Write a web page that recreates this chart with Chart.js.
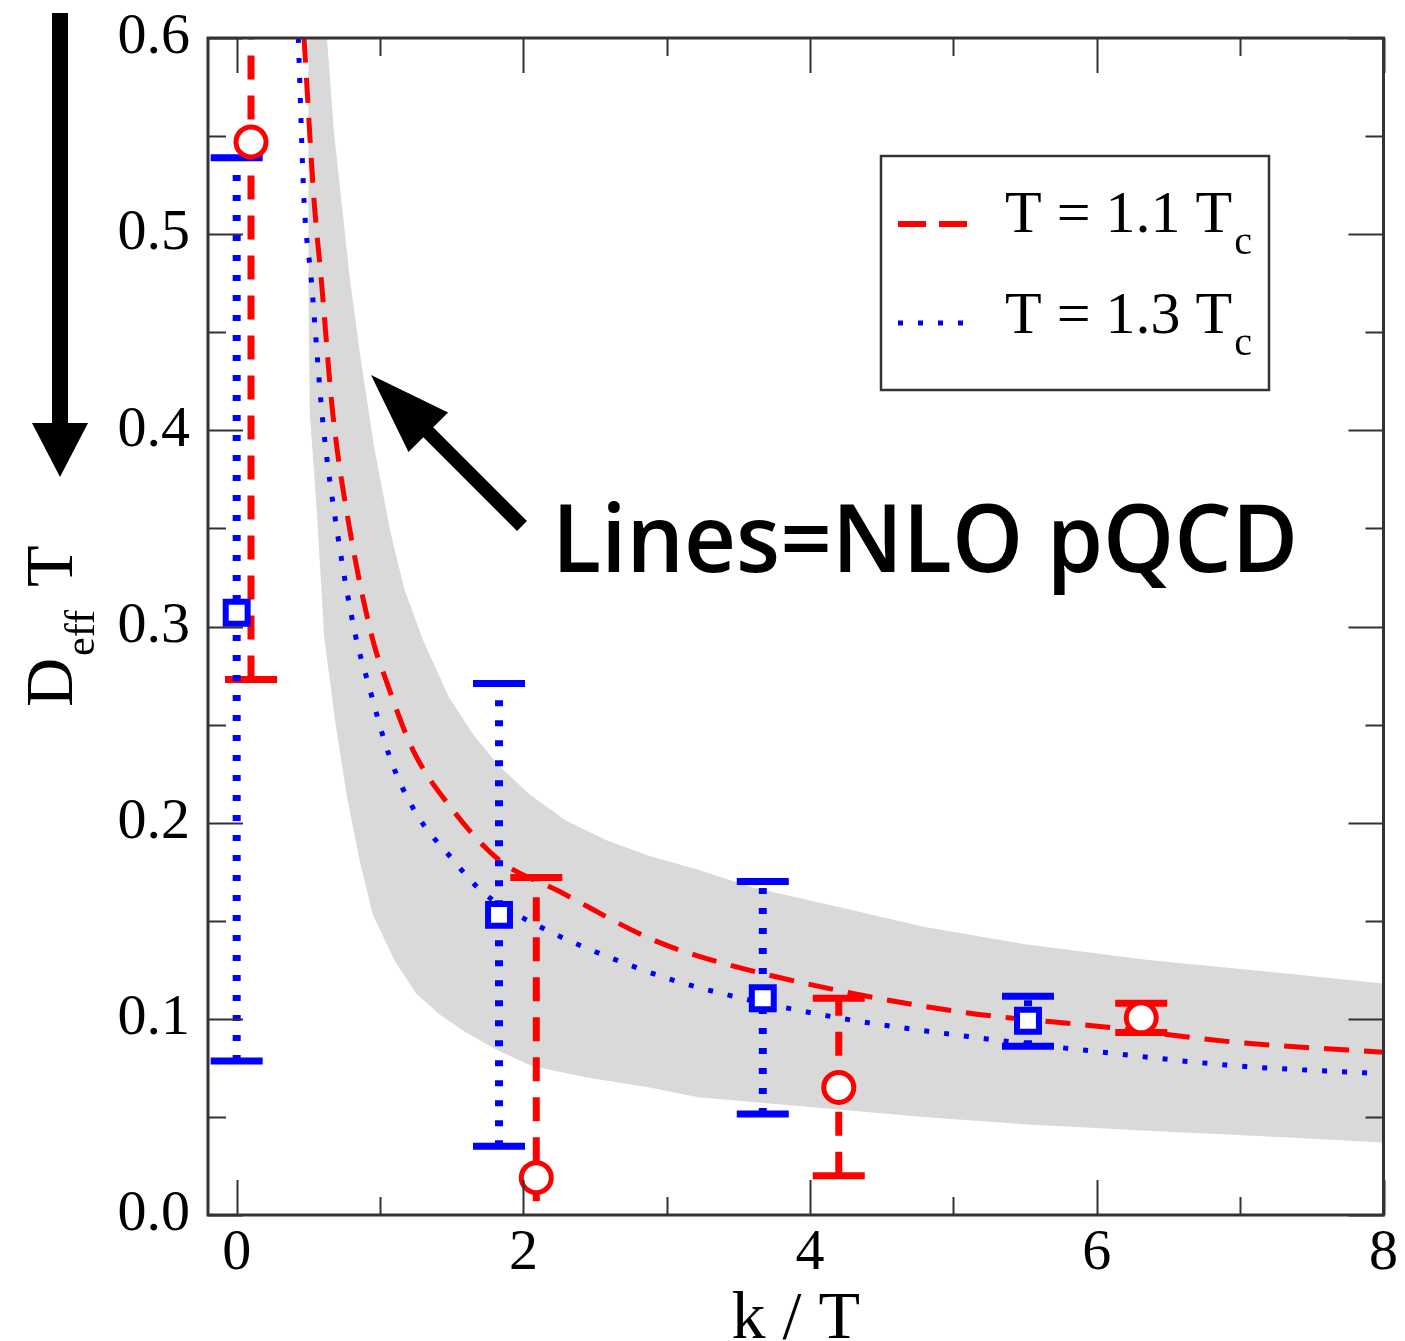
<!DOCTYPE html>
<html>
<head>
<meta charset="utf-8">
<title>D_eff T vs k/T</title>
<script src="https://cdn.jsdelivr.net/npm/chart.js@4.4.1/dist/chart.umd.min.js"></script>
<style>
    html, body { margin: 0; padding: 0; background: #fff; }
    canvas { display: block; }
</style>
</head>
<body>
<canvas id="chart" width="1405" height="1341"></canvas>
<script>
// NLO pQCD curves
const redCurveK = [0.47, 0.54, 0.59, 0.67, 0.79, 0.95, 1.04, 1.23, 1.48, 1.83, 2.25, 2.88, 3.22, 4.16, 5.10, 6.04, 6.98, 8.0];
const redCurveD = [0.600, 0.517, 0.477, 0.409, 0.349, 0.293, 0.273, 0.237, 0.209, 0.181, 0.165, 0.141, 0.132, 0.115, 0.103, 0.096, 0.088, 0.083];
const blueCurveK = [0.43, 0.47, 0.52, 0.60, 0.70, 0.83, 0.91, 1.07, 1.25, 1.51, 1.71, 2.06, 2.83, 3.22, 4.16, 5.10, 6.04, 6.98, 8.0];
const blueCurveD = [0.600, 0.517, 0.477, 0.405, 0.349, 0.295, 0.273, 0.233, 0.205, 0.181, 0.165, 0.149, 0.125, 0.116, 0.101, 0.091, 0.083, 0.076, 0.072];

// grey band (upper and lower edges)
const bandUpperK = [0.63, 0.68, 0.79, 0.87, 0.96, 1.07, 1.17, 1.30, 1.48, 1.65, 1.83, 2.05, 2.30, 2.58, 2.88, 3.22, 3.60, 4.20, 4.79, 5.50, 6.36, 7.20, 8.0];
const bandUpperD = [0.600, 0.551, 0.477, 0.434, 0.391, 0.349, 0.319, 0.293, 0.264, 0.245, 0.229, 0.214, 0.201, 0.191, 0.183, 0.176, 0.167, 0.157, 0.147, 0.138, 0.130, 0.124, 0.118];
const bandLowerK = [0.50, 0.50, 0.51, 0.56, 0.61, 0.69, 0.77, 0.86, 0.95, 1.10, 1.25, 1.42, 1.60, 1.82, 2.06, 2.45, 2.88, 3.22, 4.00, 4.79, 5.55, 6.36, 7.20, 8.0];
const bandLowerD = [0.600, 0.477, 0.409, 0.358, 0.295, 0.250, 0.213, 0.180, 0.153, 0.130, 0.113, 0.102, 0.093, 0.084, 0.076, 0.070, 0.065, 0.060, 0.055, 0.050, 0.046, 0.043, 0.040, 0.037];

// lattice points, T = 1.1 Tc
const redK = [0.10, 2.09, 4.20, 6.31];
const redD = [0.547, 0.019, 0.065, 0.1005];
const redLo = [0.273, 0.007, 0.020, 0.093];
const redHi = [0.70, 0.172, 0.1105, 0.108];
const redLoCap = [true, false, true, true];

// lattice points, T = 1.3 Tc
const blueK = [0.00, 1.83, 3.67, 5.52];
const blueD = [0.307, 0.153, 0.1105, 0.099];
const blueLo = [0.0785, 0.035, 0.0515, 0.086];
const blueHi = [0.539, 0.271, 0.170, 0.1115];

const xTicks = [0, 2, 4, 6, 8];
const xMinor = [1, 3, 5, 7];
const yTicks = [0, 0.1, 0.2, 0.3, 0.4, 0.5, 0.6];
const yMinor = [0.05, 0.15, 0.25, 0.35, 0.45, 0.55];
const legendLabels = ['T = 1.1 T', 'T = 1.3 T'];

const RED = '#ff0000';
const BLUE = '#0000ff';
const SERIF = '"Liberation Serif", "Times New Roman", serif';

function zip(ks, ds) {
    return ks.map((k, i) => ({ x: k, y: ds[i] }));
}

// closed outline of the band: along the top edge, back along the bottom edge
const bandShape = zip(bandUpperK, bandUpperD).concat(zip(bandLowerK, bandLowerD).reverse());

function drawErrorBars(chart, ks, lo, hi, color, width, dash, loCap) {
    const ctx = chart.ctx;
    const xs = chart.scales.x;
    const ys = chart.scales.y;
    const top = chart.chartArea.top;
    ks.forEach((k, i) => {
        const px = xs.getPixelForValue(k);
        const pLo = ys.getPixelForValue(lo[i]);
        const pHi = ys.getPixelForValue(hi[i]);
        ctx.save();
        ctx.strokeStyle = color;
        ctx.lineWidth = width;
        ctx.lineCap = 'butt';
        ctx.setLineDash(dash);
        ctx.beginPath();
        ctx.moveTo(px, pLo);
        ctx.lineTo(px, pHi);
        ctx.stroke();
        ctx.setLineDash([]);
        ctx.lineWidth = 7;
        ctx.beginPath();
        if (!loCap || loCap[i]) {
            ctx.moveTo(px - 26, pLo);
            ctx.lineTo(px + 26, pLo);
        }
        if (pHi >= top) {
            ctx.moveTo(px - 26, pHi);
            ctx.lineTo(px + 26, pHi);
        }
        ctx.stroke();
        ctx.restore();
    });
}

function drawArrow(ctx, x1, y1, x2, y2, shaftW, headLen, headHalf) {
    const len = Math.hypot(x2 - x1, y2 - y1);
    const ux = (x2 - x1) / len;
    const uy = (y2 - y1) / len;
    const bx = x2 - ux * headLen;
    const by = y2 - uy * headLen;
    const nx = -uy;
    const ny = ux;
    ctx.beginPath();
    ctx.moveTo(x1 + nx * shaftW / 2, y1 + ny * shaftW / 2);
    ctx.lineTo(bx + nx * shaftW / 2, by + ny * shaftW / 2);
    ctx.lineTo(bx + nx * headHalf, by + ny * headHalf);
    ctx.lineTo(x2, y2);
    ctx.lineTo(bx - nx * headHalf, by - ny * headHalf);
    ctx.lineTo(bx - nx * shaftW / 2, by - ny * shaftW / 2);
    ctx.lineTo(x1 - nx * shaftW / 2, y1 - ny * shaftW / 2);
    ctx.closePath();
    ctx.fill();
}

const decorations = {
    id: 'decorations',
    beforeDatasetDraw(chart, args) {
        // error bars go under the markers but over the curves
        if (args.index !== 3) return;
        const ctx = chart.ctx;
        const a = chart.chartArea;
        ctx.save();
        ctx.beginPath();
        ctx.rect(a.left, a.top, a.right - a.left, a.bottom - a.top);
        ctx.clip();
        drawErrorBars(chart, redK, redLo, redHi, RED, 7, [24, 16], redLoCap);
        drawErrorBars(chart, blueK, blueLo, blueHi, BLUE, 8, [6, 14], null);
        ctx.restore();
    },
    afterDraw(chart) {
        const ctx = chart.ctx;
        const a = chart.chartArea;
        const xs = chart.scales.x;
        const ys = chart.scales.y;

        // inward ticks on all four sides
        ctx.save();
        ctx.strokeStyle = '#333';
        ctx.lineWidth = 2;
        ctx.beginPath();
        const xMarks = xTicks.map(v => [v, 35]).concat(xMinor.map(v => [v, 18]));
        xMarks.forEach(([v, len]) => {
            const p = Math.round(xs.getPixelForValue(v)) + 0.5;
            ctx.moveTo(p, a.bottom); ctx.lineTo(p, a.bottom - len);
            ctx.moveTo(p, a.top); ctx.lineTo(p, a.top + len);
        });
        const yMarks = yTicks.map(v => [v, 35]).concat(yMinor.map(v => [v, 18]));
        yMarks.forEach(([v, len]) => {
            const p = Math.round(ys.getPixelForValue(v)) + 0.5;
            ctx.moveTo(a.left, p); ctx.lineTo(a.left + len, p);
            ctx.moveTo(a.right, p); ctx.lineTo(a.right - len, p);
        });
        ctx.stroke();

        // frame
        ctx.lineWidth = 3;
        ctx.strokeStyle = '#333';
        ctx.strokeRect(a.left, a.top, a.right - a.left, a.bottom - a.top);
        ctx.restore();

        // legend box
        ctx.save();
        ctx.fillStyle = '#fff';
        ctx.fillRect(881, 156, 388, 234);
        ctx.strokeStyle = '#333';
        ctx.lineWidth = 2.5;
        ctx.strokeRect(881, 156, 388, 234);
        ctx.lineCap = 'butt';
        ctx.strokeStyle = RED;
        ctx.lineWidth = 6;
        ctx.setLineDash([28, 13]);
        ctx.beginPath();
        ctx.moveTo(898, 224); ctx.lineTo(967, 224);
        ctx.stroke();
        ctx.strokeStyle = BLUE;
        ctx.lineWidth = 5;
        ctx.setLineDash([5, 15]);
        ctx.beginPath();
        ctx.moveTo(898, 323); ctx.lineTo(967, 323);
        ctx.stroke();
        ctx.setLineDash([]);
        ctx.fillStyle = '#000';
        ctx.textBaseline = 'alphabetic';
        ctx.textAlign = 'left';
        [232, 333].forEach((base, i) => {
            ctx.font = '60px ' + SERIF;
            ctx.fillText(legendLabels[i], 1005, base);
            const w = ctx.measureText(legendLabels[i]).width;
            ctx.font = '40px ' + SERIF;
            ctx.fillText('c', 1005 + w + 2, base + 22);
        });
        ctx.restore();

        // axis titles
        ctx.save();
        ctx.fillStyle = '#000';
        ctx.textBaseline = 'alphabetic';
        ctx.font = '68px ' + SERIF;
        ctx.textAlign = 'center';
        ctx.fillText('k / T', (a.left + a.right) / 2, 1338);
        ctx.textAlign = 'left';
        ctx.translate(72, 707);
        ctx.rotate(-Math.PI / 2);
        ctx.fillText('D', 0, 0);
        const dW = ctx.measureText('D').width;
        ctx.font = '42px ' + SERIF;
        ctx.fillText('eff', dW + 2, 22);
        ctx.font = '68px ' + SERIF;
        ctx.fillText('T', 120, 0);
        ctx.restore();

        // annotations
        ctx.save();
        ctx.fillStyle = '#000';
        ctx.fillRect(52, 13, 16, 412);
        ctx.beginPath();
        ctx.moveTo(32, 423); ctx.lineTo(88, 423); ctx.lineTo(60, 477);
        ctx.closePath();
        ctx.fill();
        drawArrow(ctx, 522, 526, 371, 375, 14, 81, 28);
        ctx.font = '600 94px "Open Sans", "Noto Sans", sans-serif';
        ctx.textBaseline = 'alphabetic';
        const label = 'Lines=NLO pQCD';
        const w = ctx.measureText(label).width;
        ctx.translate(552, 572);
        ctx.scale(746 / w, 1);
        ctx.fillText(label, 0, 0);
        ctx.restore();
    }
};

new Chart(document.getElementById('chart').getContext('2d'), {
    type: 'scatter',
    data: {
        datasets: [
            {
                label: 'band',
                data: bandShape,
                showLine: true,
                fill: 'shape',
                backgroundColor: '#d9d9d9',
                borderWidth: 0,
                pointRadius: 0,
                tension: 0,
                order: 5,
            },
            {
                label: 'T = 1.1 Tc NLO',
                data: zip(redCurveK, redCurveD),
                showLine: true,
                borderColor: RED,
                borderWidth: 5,
                borderDash: [25, 15],
                pointRadius: 0,
                cubicInterpolationMode: 'monotone',
                order: 4,
            },
            {
                label: 'T = 1.3 Tc NLO',
                data: zip(blueCurveK, blueCurveD),
                showLine: true,
                borderColor: BLUE,
                borderWidth: 5,
                borderDash: [5, 15],
                pointRadius: 0,
                cubicInterpolationMode: 'monotone',
                order: 3,
            },
            {
                label: 'T = 1.3 Tc',
                data: zip(blueK, blueD),
                pointStyle: 'rect',
                pointRadius: 15.5,
                pointBorderWidth: 6,
                pointBorderColor: BLUE,
                pointBackgroundColor: '#fff',
                order: 2,
            },
            {
                label: 'T = 1.1 Tc',
                data: zip(redK, redD),
                pointStyle: 'circle',
                pointRadius: 15,
                pointBorderWidth: 5,
                pointBorderColor: RED,
                pointBackgroundColor: '#fff',
                order: 1,
            },
        ],
    },
    options: {
        responsive: false,
        animation: false,
        events: [],
        layout: { padding: { left: 0, right: 20, top: 38, bottom: 0 } },
        plugins: {
            legend: { display: false },
            tooltip: { enabled: false },
        },
        scales: {
            x: {
                type: 'linear',
                min: -0.2,
                max: 8,
                afterBuildTicks: s => { s.ticks = xTicks.map(v => ({ value: v })); },
                afterFit: s => {
                    s.height = 126;
                    s.paddingLeft = 0;
                    s.paddingRight = 0;
                },
                grid: { display: false, drawTicks: false },
                border: { display: false },
                ticks: {
                    color: '#000',
                    padding: 4,
                    font: { family: SERIF, size: 58 },
                    callback: v => String(v),
                },
            },
            y: {
                type: 'linear',
                min: 0,
                max: 0.6,
                afterBuildTicks: s => { s.ticks = yTicks.map(v => ({ value: v })); },
                afterFit: s => {
                    s.width = 208;
                    s.paddingTop = 0;
                    s.paddingBottom = 0;
                },
                grid: { display: false, drawTicks: false },
                border: { display: false },
                ticks: {
                    color: '#000',
                    padding: 18,
                    font: { family: SERIF, size: 58 },
                    callback: v => v.toFixed(1),
                },
            },
        },
    },
    plugins: [decorations],
});
</script>
</body>
</html>
